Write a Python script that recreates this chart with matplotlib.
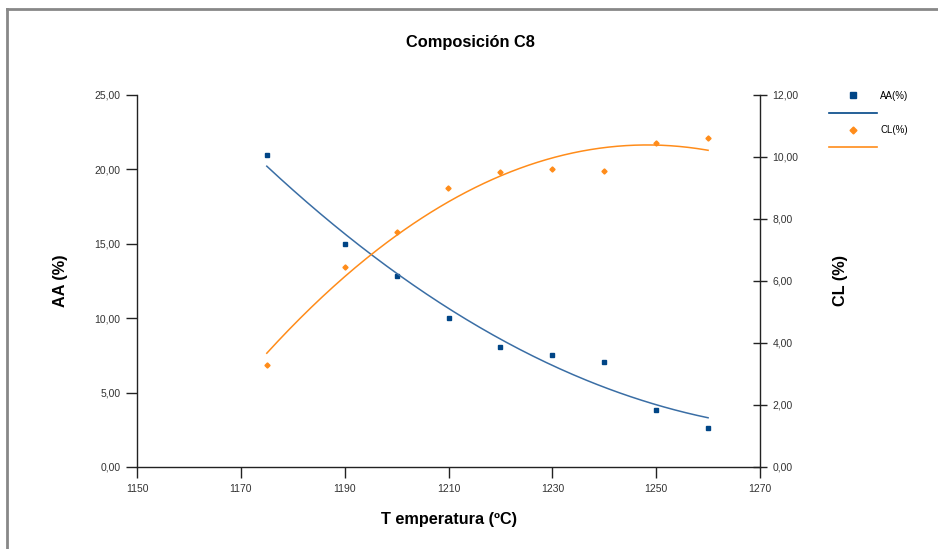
import numpy as np
import matplotlib
matplotlib.use("Agg")
import matplotlib.pyplot as plt
from matplotlib.lines import Line2D
from matplotlib.ticker import FuncFormatter

plt.rcParams['font.family'] = ['Liberation Sans', 'DejaVu Sans']

# --- Dados: composição C8 ---
temperatura = [1175, 1190, 1200, 1210, 1220, 1230, 1240, 1250, 1260]
aa = [20.95, 14.97, 12.84, 9.99, 8.09, 7.55, 7.03, 3.83, 2.60]
cl = [3.30, 6.46, 7.59, 8.99, 9.52, 9.61, 9.56, 10.45, 10.62]

azul = '#004586'
laranja = '#ff8c1a'
cinza_txt = '#333333'

fig = plt.figure(figsize=(9.38, 5.49), dpi=100)
ax = fig.add_axes([137/938, 1-467/549, (760-137)/938, (467-95)/549])
ax2 = ax.twinx()

# pontos medidos
ax.plot(temperatura, aa, 's', color=azul, markersize=3.2, label='AA(%)')
ax2.plot(temperatura, cl, 'D', color=laranja, markersize=2.6, label='CL(%)')

# linhas de tendência (polinômio de 2ª ordem)
xt = np.linspace(min(temperatura), max(temperatura), 200)
coef_aa = np.polyfit(temperatura, aa, 2)
coef_cl = np.polyfit(temperatura, cl, 2)
ax.plot(xt, np.polyval(coef_aa, xt), color='#3a6ea5', linewidth=1.1)
ax2.plot(xt, np.polyval(coef_cl, xt), color=laranja, linewidth=1.1)

ax.set_xlim(1150, 1270)
ax.set_ylim(0, 25)
ax2.set_ylim(0, 12)
ax.set_xticks(np.arange(1150, 1271, 20))
ax.set_yticks(np.arange(0, 25.1, 5))
ax2.set_yticks(np.arange(0, 12.1, 2))

virgula = FuncFormatter(lambda v, p: f'{v:.2f}'.replace('.', ','))
ax.yaxis.set_major_formatter(virgula)
ax2.yaxis.set_major_formatter(virgula)

for a in (ax, ax2):
    a.spines['top'].set_visible(False)
    for s in a.spines.values():
        s.set_color('#222222')
        s.set_linewidth(1.0)
ax.spines['right'].set_visible(False)
ax2.spines['left'].set_visible(False)
ax2.spines['bottom'].set_visible(False)

ax.tick_params(axis='both', direction='out', length=8, width=1.0, colors='#222222',
               labelsize=7.5, labelcolor=cinza_txt, pad=4)
ax.tick_params(axis='x', pad=4)
ax2.tick_params(axis='y', direction='inout', length=10, width=1.0, colors='#222222',
                labelsize=7.5, labelcolor=cinza_txt, pad=4)

ax.set_xlabel('T emperatura (ºC)', fontsize=11.7, fontweight='bold', labelpad=13)
ax.set_ylabel('AA (%)', fontsize=11.7, fontweight='bold', labelpad=19)
ax2.set_ylabel('CL (%)', fontsize=11.7, fontweight='bold', labelpad=25)
fig.text(470/938, 1-43/549, 'Composición C8', ha='center', va='center',
         fontsize=11.8, fontweight='bold')

# legenda: marcador acima da linha de tendência
handles = [Line2D([], [], linestyle='none', marker='s', color=azul, markersize=4.5),
           Line2D([], [], color=azul, linewidth=1.2),
           Line2D([], [], linestyle='none', marker='D', color=laranja, markersize=3.5),
           Line2D([], [], color=laranja, linewidth=1.2)]
fig.legend(handles, ['AA(%)', '', 'CL(%)', ''], loc='upper left',
           bbox_to_anchor=(824/938, 1-86/549), frameon=False, fontsize=7,
           handlelength=5.0, handletextpad=0.3, labelspacing=0.75, borderpad=0)

# moldura do gráfico
fig.add_artist(Line2D([7/938, 7/938], [0, 1-9/549], color='#888888', linewidth=2))
fig.add_artist(Line2D([7/938, 1], [1-9/549, 1-9/549], color='#888888', linewidth=2))

fig.savefig('out.png', dpi=100)
